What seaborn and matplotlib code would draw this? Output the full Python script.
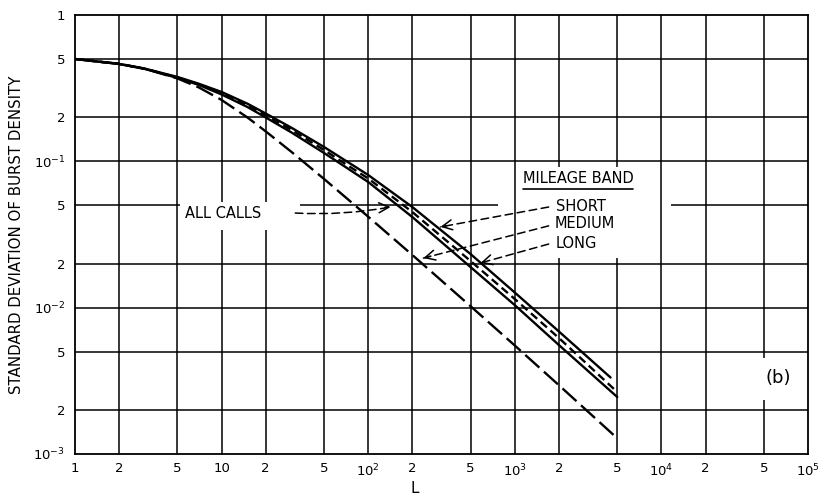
import matplotlib
matplotlib.use("Agg")
import matplotlib.pyplot as plt
from matplotlib.lines import Line2D
import pandas as pd
import seaborn as sns

# Burst length L and the standard deviation of burst density for each mileage band
burst_len = [1, 2, 3, 5, 7, 10, 15, 20, 30, 50, 70, 100, 200, 500, 1000, 2000, 5000]
short_len = [1, 2, 3, 5, 7, 10, 15, 20, 30, 50, 70, 100, 200, 500, 1000, 2000, 4500]
short_sd = [0.500, 0.4624, 0.4295, 0.3770, 0.3386, 0.2976, 0.2475, 0.2122, 0.1694,
            0.1252, 0.1011, 0.0806, 0.0487, 0.0232, 0.01268, 0.00687, 0.00333]
all_calls_sd = [0.500, 0.4624, 0.4287, 0.3740, 0.3355, 0.2920, 0.2414, 0.2056, 0.1637,
                0.1195, 0.0958, 0.0763, 0.0450, 0.0208, 0.01145, 0.0062, 0.00265]
long_sd = [0.500, 0.4624, 0.4274, 0.3711, 0.3323, 0.2861, 0.2350, 0.1993, 0.1573,
           0.1139, 0.0914, 0.0722, 0.0416, 0.0189, 0.0104, 0.00555, 0.00245]
medium_sd = [0.500, 0.4638, 0.4295, 0.3681, 0.3195, 0.2624, 0.1993, 0.1601, 0.1158,
             0.0757, 0.0568, 0.0418, 0.0229, 0.01021, 0.00551, 0.00295, 0.00128]

x_ticks = [1, 2, 5, 10, 20, 50, 100, 200, 500, 1000, 2000, 5000, 1e4, 2e4, 5e4, 1e5]
x_tick_labels = ["1", "2", "5", "10", "2", "5", r"$10^2$", "2", "5", r"$10^3$",
                 "2", "5", r"$10^4$", "2", "5", r"$10^5$"]
y_ticks = [1e-3, 2e-3, 5e-3, 1e-2, 2e-2, 5e-2, 1e-1, 2e-1, 5e-1, 1]
y_tick_labels = [r"$10^{-3}$", "2", "5", r"$10^{-2}$", "2", "5", r"$10^{-1}$", "2", "5", "1"]

frames = []
for band, xs, ys in [("SHORT", short_len, short_sd),
                     ("ALL CALLS", burst_len, all_calls_sd),
                     ("LONG", burst_len, long_sd),
                     ("MEDIUM", burst_len, medium_sd)]:
    frames.append(pd.DataFrame({"L": xs, "sd": ys, "band": band}))
df = pd.concat(frames, ignore_index=True)

sns.set_theme(style="white")
plt.rcParams["font.family"] = ["DejaVu Sans"]
plt.rcParams["mathtext.fontset"] = "dejavusans"

fig = plt.figure(figsize=(8.26, 4.98), dpi=100)
ax = fig.add_axes([0.0908, 0.0884, 0.8874, 0.8816])
ax.set_xscale("log")
ax.set_yscale("log")
ax.set_xlim(1, 1e5)
ax.set_ylim(1e-3, 1)

# Grid drawn line by line so that it can leave room for the lettering
grid_kw = dict(color="black", linewidth=1.1, zorder=1)
v_gaps = {10: [(0.0339, 0.0527)], 20: [(0.0339, 0.0527)],
          2000: [(0.0218, 0.0913)], 5000: [(0.0218, 0.0913)],
          5e4: [(0.00235, 0.00451)]}
h_gaps = {5e-2: [(5.2, 34.4), (763, 11600)]}


def segments(lo, hi, gaps):
    pieces, start = [], lo
    for g0, g1 in sorted(gaps):
        pieces.append((start, g0))
        start = g1
    pieces.append((start, hi))
    return pieces


for xv in x_ticks[1:-1]:
    for a, b in segments(1e-3, 1, v_gaps.get(xv, [])):
        ax.vlines(xv, a, b, **grid_kw)
for yv in y_ticks[1:-1]:
    for a, b in segments(1, 1e5, h_gaps.get(yv, [])):
        ax.hlines(yv, a, b, **grid_kw)

sns.lineplot(data=df, x="L", y="sd", hue="band", style="band",
             palette={"SHORT": "black", "ALL CALLS": "black", "LONG": "black", "MEDIUM": "black"},
             dashes={"SHORT": "", "ALL CALLS": (3.5, 2.0), "LONG": "", "MEDIUM": (8.0, 2.6)},
             linewidth=1.7, estimator=None, sort=False, legend=False, ax=ax, zorder=3)

ax.set_xticks(x_ticks)
ax.set_xticklabels(x_tick_labels)
ax.set_yticks(y_ticks)
ax.set_yticklabels(y_tick_labels)
ax.minorticks_off()
ax.tick_params(axis="both", length=0, labelsize=9.5, colors="black")
ax.tick_params(axis="x", pad=6)
ax.tick_params(axis="y", pad=7)
for sp in ax.spines.values():
    sp.set_color("black")
    sp.set_linewidth(1.3)
    sp.set_visible(True)

ax.set_xlabel("L", fontsize=11, color="black")
ax.xaxis.set_label_coords(0.464, -0.062)
ax.set_ylabel("STANDARD DEVIATION OF BURST DENSITY", fontsize=10.8, color="black")
ax.yaxis.set_label_coords(-0.07, 0.5)

txt_kw = dict(fontsize=10.5, color="black", va="center", ha="left", zorder=4)
ax.text(5.64, 0.0443, "ALL CALLS", **txt_kw)
mileage = ax.text(1130, 0.0757, "MILEAGE BAND", **txt_kw)
ax.text(1900, 0.0494, "SHORT", **txt_kw)
ax.text(1870, 0.0373, "MEDIUM", **txt_kw)
ax.text(1900, 0.0276, "LONG", **txt_kw)
ax.text(62400, 0.0033, "(b)", fontsize=13, color="black", ha="center", va="center", zorder=4)

# Dashed leaders ending in open arrowheads
leaders = [((31.8, 0.0443), (142, 0.0487), "arc3,rad=0.06"),
           ((1702, 0.0487), (311, 0.0356), "arc3,rad=0"),
           ((1702, 0.0362), (238, 0.0218), "arc3,rad=0"),
           ((1702, 0.0272), (584, 0.0202), "arc3,rad=0")]
for start, tip, conn in leaders:
    ax.annotate("", xy=tip, xytext=start,
                arrowprops=dict(arrowstyle="-", linestyle=(0, (5, 3)), color="black",
                                lw=1.1, connectionstyle=conn, shrinkA=0, shrinkB=0),
                zorder=4)
    ax.annotate("", xy=tip, xytext=(tip[0] * (start[0] / tip[0]) ** 0.06,
                                    tip[1] * (start[1] / tip[1]) ** 0.06),
                arrowprops=dict(arrowstyle="->,head_length=0.6,head_width=0.3",
                                color="black", lw=1.1, shrinkA=0, shrinkB=0),
                zorder=4)

# Underline beneath the band heading
fig.canvas.draw()
bb = mileage.get_window_extent()
fig.add_artist(Line2D([bb.x0 / fig.bbox.width, bb.x1 / fig.bbox.width],
                      [(bb.y0 - 3) / fig.bbox.height] * 2,
                      transform=fig.transFigure, color="black", lw=1.2))

fig.savefig("out.png", dpi=100, facecolor="white")
